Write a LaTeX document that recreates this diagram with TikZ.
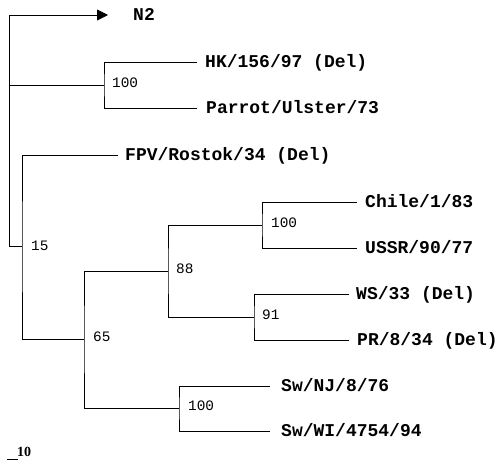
\documentclass[tikz,border=0pt]{standalone}
\usepackage{fontspec}
\newfontfamily\taxfont{Liberation Mono}
\newfontfamily\barfont{Liberation Serif}
\usetikzlibrary{arrows.meta,positioning}
\begin{document}
\begin{tikzpicture}[x=1pt,y=-1pt,
  branch/.style={line width=0.9pt, black},
  leaf/.style={font=\taxfont\bfseries\fontsize{18}{18}\selectfont, inner sep=0pt,
    text height=10.3pt, text depth=0pt, anchor=west},
  boot/.style={font=\taxfont\fontsize{14.4}{14}\selectfont, inner sep=0pt,
    text height=8.6pt, text depth=0pt, anchor=west, yshift=2pt}]
\useasboundingbox (0,0) rectangle (500,461);
% root
\coordinate (rN2) at (9,15);
\coordinate (rHK) at (9,85);
\coordinate (r15) at (9,246);
\coordinate (tN2) at (108,15);
\draw[branch] (rN2) -- (r15);
\draw[branch,-{Triangle[length=11pt,width=11pt]}] (rN2) -- (tN2);
\node[leaf, right=25pt of tN2] (N2) {N2};
% HK clade
\coordinate (nHK) at (104,85);
\coordinate (tHK) at (197,62);
\coordinate (tParrot) at (197,108);
\draw[branch] (rHK) -- (nHK);
\draw[branch] (tHK) -| (nHK) |- (tParrot);
\node[boot, right=8pt of nHK] (bHK) {100};
\node[leaf, right=8pt of tHK] (HK) {HK/156/97 (Del)};
\node[leaf, right=9pt of tParrot] (Parrot) {Parrot/Ulster/73};
% node 15
\coordinate (n15) at (22,246);
\coordinate (tFPV) at (118,155);
\coordinate (n65) at (84,339);
\draw[branch] (r15) -- (n15);
\draw[branch] (tFPV) -| (n15) |- (n65);
\node[boot, right=9pt of n15, yshift=-2.5pt] (b15) {15};
\node[leaf, right=7pt of tFPV] (FPV) {FPV/Rostok/34 (Del)};
% node 65
\coordinate (n88) at (168,271);
\coordinate (nSw) at (179,408);
\draw[branch] (n88) -| (n65) |- (nSw);
\node[boot, right=9pt of n65] (b65) {65};
% node 88
\coordinate (nC) at (262,225);
\coordinate (n91) at (254,317);
\draw[branch] (nC) -| (n88) |- (n91);
\node[boot, right=8pt of n88] (b88) {88};
% Chile clade
\coordinate (tChile) at (357,202);
\coordinate (tUSSR) at (357,248);
\draw[branch] (tChile) -| (nC) |- (tUSSR);
\node[boot, right=9pt of nC] (bC) {100};
\node[leaf, right=8pt of tChile] (Chile) {Chile/1/83};
\node[leaf, right=8pt of tUSSR] (USSR) {USSR/90/77};
% WS clade
\coordinate (tWS) at (349,294);
\coordinate (tPR) at (349,340);
\draw[branch] (tWS) -| (n91) |- (tPR);
\node[boot, right=8pt of n91] (b91) {91};
\node[leaf, right=7pt of tWS] (WS) {WS/33 (Del)};
\node[leaf, right=8pt of tPR] (PR) {PR/8/34 (Del)};
% Swine clade
\coordinate (tNJ) at (270,386);
\coordinate (tWI) at (270,431);
\draw[branch] (tNJ) -| (nSw) |- (tWI);
\node[boot, right=9pt of nSw] (bSw) {100};
\node[leaf, right=11pt of tNJ] (NJ) {Sw/NJ/8/76};
\node[leaf, right=11pt of tWI] (WI) {Sw/WI/4754/94};
% scale bar
\coordinate (sb1) at (7,459);
\coordinate (sb2) at (18,459);
\draw[branch] (sb1) -- (sb2);
\node[font=\barfont\bfseries\fontsize{14}{14}\selectfont, inner sep=0pt, anchor=base west]
  (sbl) at (17,456) {10};
\end{tikzpicture}
\end{document}
